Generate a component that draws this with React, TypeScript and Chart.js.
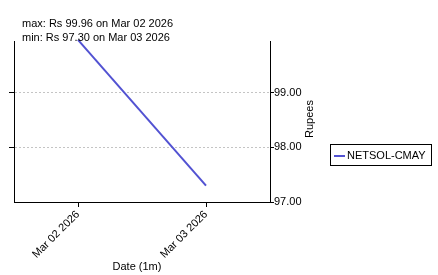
import { useEffect, useRef } from "react";
import { Chart, registerables } from "chart.js";

Chart.register(...registerables);

const categories = ["Mar 02 2026", "Mar 03 2026"];
const seriesName = "NETSOL-CMAY";
const prices = [99.96, 97.3];
const leftTicks = [98, 99];
const rightTicks = [97, 98, 99];
const yMin = 97;
const yMax = 99.94;
const annotations = ["max: Rs 99.96 on Mar 02 2026", "min: Rs 97.30 on Mar 03 2026"];
const xTitle = "Date (1m)";
const yTitle = "Rupees";

const FONT_FAMILY = "'Liberation Sans', Arial, sans-serif";
const LINE_COLOR = "#5252d2";

const textPlugin = {
  id: "customText",
  afterDraw(chart: any) {
    const ctx = chart.ctx as CanvasRenderingContext2D;
    const area = chart.chartArea;
    ctx.save();
    ctx.fillStyle = "#000";
    ctx.font = `11px ${FONT_FAMILY}`;
    ctx.textAlign = "left";
    ctx.textBaseline = "alphabetic";
    ctx.fillText(annotations[0], 22, 27);
    ctx.fillText(annotations[1], 22, 41);

    // x title
    ctx.textAlign = "center";
    ctx.textBaseline = "middle";
    ctx.fillText(xTitle, (area.left + area.right) / 2 - 5, 267);

    // y title (right)
    ctx.save();
    ctx.translate(310, 119);
    ctx.rotate(-Math.PI / 2);
    ctx.fillText(yTitle, 0, 0);
    ctx.restore();

    // legend
    ctx.strokeStyle = "#000";
    ctx.lineWidth = 1;
    ctx.strokeRect(330.5, 144.5, 101, 21);
    ctx.strokeStyle = LINE_COLOR;
    ctx.lineWidth = 2;
    ctx.beginPath();
    ctx.moveTo(334, 156);
    ctx.lineTo(345, 156);
    ctx.stroke();
    ctx.fillStyle = "#000";
    ctx.textAlign = "left";
    ctx.textBaseline = "middle";
    ctx.fillText(seriesName, 347, 156);
    ctx.restore();
  },
};

export default function App() {
  const ref = useRef<HTMLCanvasElement | null>(null);

  useEffect(() => {
    document.body.style.margin = "0";
    const canvas = ref.current;
    if (!canvas) return;
    const font = { family: FONT_FAMILY, size: 11 };
    const chart = new Chart(canvas, {
      type: "line",
      data: {
        labels: categories,
        datasets: [
          {
            label: seriesName,
            data: prices,
            borderColor: LINE_COLOR,
            backgroundColor: LINE_COLOR,
            borderWidth: 2,
            pointRadius: 0,
            tension: 0,
            clip: false as any,
            yAxisID: "y",
          },
        ],
      },
      options: {
        animation: false,
        responsive: false,
        devicePixelRatio: 1,
        layout: { padding: { top: 41, left: 0, right: 0, bottom: 0 } },
        plugins: {
          legend: { display: false },
          tooltip: { enabled: false },
          title: { display: false },
        },
        scales: {
          x: {
            type: "category",
            position: "bottom",
            offset: true,
            grid: {
              display: true,
              drawOnChartArea: false,
              drawTicks: true,
              tickLength: 5,
              tickColor: "#000",
              tickWidth: 1,
              offset: false,
            },
            border: { display: true, color: "#000", width: 1 },
            ticks: {
              font,
              color: "#000",
              maxRotation: 45,
              minRotation: 45,
              padding: 1,
              autoSkip: false,
            },
            afterFit: (s: any) => {
              s.height = 73;
            },
          },
          y: {
            type: "linear",
            position: "left",
            min: yMin,
            max: yMax,
            afterBuildTicks: (s: any) => {
              s.ticks = leftTicks.map((v) => ({ value: v }));
            },
            grid: {
              display: true,
              drawOnChartArea: true,
              drawTicks: true,
              color: "#c4c4c4",
              lineWidth: 1,
              tickLength: 5,
              tickColor: "#000",
              tickWidth: 1,
              tickBorderDash: [],
            },
            border: { display: true, color: "#000", width: 1, dash: [2, 2] },
            ticks: { display: false },
            afterFit: (s: any) => {
              s.width = 14;
            },
          },
          y2: {
            type: "linear",
            position: "right",
            min: yMin,
            max: yMax,
            afterBuildTicks: (s: any) => {
              s.ticks = rightTicks.map((v) => ({ value: v }));
            },
            grid: {
              display: true,
              drawOnChartArea: false,
              drawTicks: true,
              tickLength: 4,
              tickColor: "#000",
              tickWidth: 1,
            },
            border: { display: true, color: "#000", width: 1 },
            ticks: {
              font,
              color: "#000",
              padding: 0,
              callback: (v: any) => Number(v).toFixed(2),
            },
            afterFit: (s: any) => {
              s.width = 168;
            },
          },
        },
      } as any,
      plugins: [textPlugin],
    });
    return () => chart.destroy();
  }, []);

  return (
    <canvas
      ref={ref}
      width={438}
      height={275}
      style={{ display: "block", width: "438px", height: "275px" }}
    />
  );
}
